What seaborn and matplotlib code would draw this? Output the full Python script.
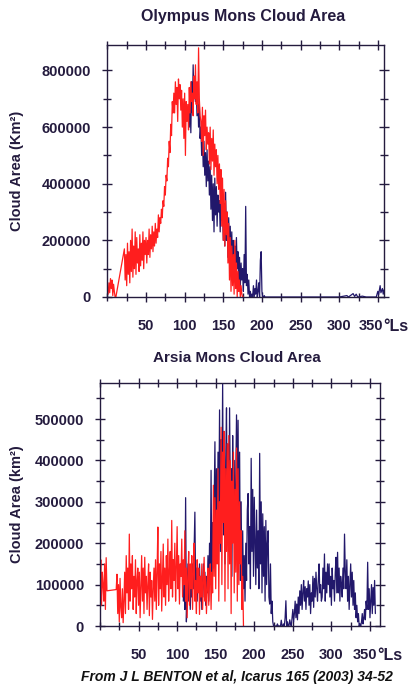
import numpy as np
import pandas as pd
import matplotlib
matplotlib.use('Agg')
import matplotlib.pyplot as plt
from matplotlib.ticker import MultipleLocator, StrMethodFormatter
from matplotlib.transforms import ScaledTranslation
import seaborn as sns

# cloud areas, in thousands of km2, one value per degree of Ls
olympus_red_ls = np.r_[1:12, 22:177]
olympus_red = [
    10, 50, 15, 65, 30, 60, 5, 45, 20, 0, 0,
    170, 60, 150, 40, 190, 80, 160, 50, 200, 90,
    240, 70, 180, 100, 230, 80, 210, 120, 170, 90,
    220, 110, 190, 130, 230, 100, 200, 150, 210, 120,
    200, 150, 240, 140, 220, 170, 250, 160, 230, 180,
    260, 190, 240, 210, 290, 230, 280,
    260, 310, 280, 340, 320, 390, 360, 430, 410, 490, 460, 550, 510, 610, 570, 690, 650,
    720, 650, 760, 680, 740, 620, 770, 700, 750, 660,
    730, 600, 700, 560, 720, 500, 690, 620, 680, 590,
    740, 650, 760, 690, 720, 640, 780, 700, 820, 680,
    760, 650, 880, 700, 640,
    620, 550, 670, 500, 640, 570, 660, 520, 600, 540,
    580, 470, 600, 450, 560, 480, 590, 430, 540, 460,
    520, 400, 500, 380, 470, 330, 450, 250, 420, 200,
    380, 180, 340, 220, 300, 120, 260, 60, 210, 20,
    180, 40, 150, 10, 200, 30, 120, 0, 90, 20,
    60, 0, 40, 10, 0, 0,
]

olympus_blue_ls = np.r_[106:206, 210, 300, 310, 312, 318, 320, 322, 324, 330, 335,
                        348, 350, 351, 353, 354, 356, 357, 358, 360]
olympus_blue = [
    600, 700, 580, 760, 650, 820, 700, 780, 690, 740,
    640, 720, 600, 680, 560,
    600, 500, 570, 460, 550, 430, 510, 390, 520, 410,
    480, 360, 460, 310, 430, 270, 400, 230, 420, 290,
    390, 250, 360, 300, 340, 230, 330, 270, 310, 200,
    330, 180, 370, 200, 300, 140, 280, 160, 250, 120,
    230, 90, 200, 140, 180, 70, 210, 100, 160, 50,
    140, 30, 120, 60, 100, 20, 150, 50, 320, 40,
    80, 10, 60, 0, 20, 0, 10, 0, 40, 0,
    30, 10, 60, 0, 20, 50, 0, 130, 160, 20,
    0, 0, 5, 0, 0,
    0, 0, 5, 0, 12, 2, 10, 0, 3, 0,
    0, 20, 8, 40, 15, 30, 10, 25, 5,
]

arsia_red_ls = np.r_[0:10, 21:187]
arsia_red = [
    100, 160, 50, 130, 100, 60, 150, 40, 165, 85,
    88, 125, 30, 100, 10, 115, 45, 20, 90, 8,
    60, 130, 30, 170, 80, 140, 40, 222, 60, 150,
    90, 170, 40, 120, 70, 160, 30, 110, 140, 50,
    130, 20, 100, 170, 60, 140, 30, 166, 80, 120,
    40, 100, 150, 25, 130, 70, 110, 16, 90, 140,
    60, 160, 40, 130, 239, 50, 150, 90, 180, 36,
    120, 198, 70, 140, 50, 170, 100, 210, 60, 130,
    180, 90, 255, 70, 160, 110, 200, 60, 140, 240,
    90, 170, 53, 150, 120, 210, 70, 160, 100, 230,
    60, 140, 20, 120, 180, 50, 150, 90, 170, 40,
    130, 200, 60, 110, 30, 160, 80, 140, 28, 120,
    70, 150, 40, 100, 166, 60, 120, 30, 90, 140,
    50, 110, 150, 40, 130, 80,
    340, 120, 310, 90, 280, 150, 380, 60, 300, 200,
    480, 100, 420, 250, 470, 60, 380, 180, 440, 90,
    460, 150, 400, 30, 350, 200, 420, 80, 330, 130,
    430, 60, 380, 100, 300, 150, 230, 40, 120, 0,
]

arsia_blue_ls = np.r_[108:358]
arsia_blue = [
    60, 120, 40, 310, 10, 90, 150, 60, 130, 40,
    110, 70, 150, 90, 180, 275, 80, 140, 60, 130,
    90, 150, 60, 120, 40, 100, 150, 70, 130, 50,
    120, 80, 170, 60, 200, 110, 376, 90, 250, 140,
    300, 445, 150, 380, 200, 420, 260, 522, 180, 450,
    300, 587, 220, 470, 150, 400, 527, 250, 440, 180,
    527, 300, 380, 120, 460, 250, 400, 200, 350, 510,
    280, 497, 200, 420, 110, 300, 60, 230, 90, 170,
    60, 200, 110, 280, 320, 150, 240, 90, 405, 180,
    330, 120, 311, 200, 100, 280, 140, 230, 90, 417,
    150, 300, 80, 271, 120, 240, 60, 255, 100, 200,
    230, 70, 53, 150, 30, 60, 10, 0, 0, 0,
    0, 0, 5, 0, 0, 0, 0, 14, 0, 0,
    5, 0, 20, 61, 0, 10, 0, 0, 15, 5,
    0, 20, 40, 10, 30, 60, 20, 53, 15, 70,
    30, 85, 50, 100, 40, 80, 110, 60, 95, 40,
    90, 70, 109, 50, 100, 30, 80, 60, 120, 45,
    115, 70, 130, 90, 60, 110, 150, 80, 100, 60,
    70, 140, 90, 174, 60, 130, 80, 150, 100, 150,
    70, 120, 50, 140, 90, 110, 60, 130, 166, 80,
    178, 80, 140, 60, 120, 100, 70, 140, 90, 222,
    130, 90, 160, 60, 120, 40, 100, 150, 70, 130,
    50, 110, 40, 80, 20, 50, 10, 30, 0, 5,
    0, 10, 30, 5, 20, 40, 15, 60, 40, 154,
    40, 90, 20, 60, 100, 30, 93, 50, 110, 30,
]

xticks = [50, 100, 150, 200, 250, 300, 350]
olympus_yticks = [0, 200000, 400000, 600000, 800000]
arsia_yticks = [0, 100000, 200000, 300000, 400000, 500000]

RED = '#ff1e1e'
BLUE = '#22186b'
DARK = '#241b3e'

sns.set_theme(style='ticks')
plt.rcParams['font.family'] = ['Liberation Sans', 'DejaVu Sans']
plt.rcParams['font.weight'] = 'bold'


def series(ls, vals):
    return pd.DataFrame({'Ls': ls, 'area': np.array(vals) * 1000})


def style_axes(ax, xmin, xmax, ymax, yticks, ystep, shift350, ls_dx):
    ax.set_xlim(xmin, xmax)
    ax.set_ylim(0, ymax)
    ax.set_xticks(xticks)
    ax.xaxis.set_minor_locator(MultipleLocator(25))
    ax.set_yticks(yticks)
    ax.yaxis.set_minor_locator(MultipleLocator(ystep))
    ax.yaxis.set_major_formatter(StrMethodFormatter('{x:.0f}'))
    ax.tick_params(axis='both', which='both', direction='inout', top=True, right=True,
                   color=DARK, width=1.0, labelcolor=DARK)
    ax.tick_params(axis='both', which='major', length=7, labelsize=10.5)
    ax.tick_params(axis='both', which='minor', length=6)
    ax.tick_params(axis='x', which='both', pad=12)
    ax.tick_params(axis='y', which='both', pad=8)
    for sp in ax.spines.values():
        sp.set_visible(True)
        sp.set_color(DARK)
        sp.set_linewidth(1.0)
    ax.set_xlabel('')
    # the last tick label sits a little left of its tick, followed by the unit
    lbl = ax.xaxis.get_major_ticks()[-1].label1
    lbl.set_transform(lbl.get_transform() + ScaledTranslation(shift350 / 100, 0, fig.dpi_scale_trans))
    ax.annotate('°Ls', xy=(1, 0), xycoords='axes fraction', xytext=(ls_dx * 0.72, -24.5),
                textcoords='offset points', ha='left', va='baseline',
                fontsize=11.5, color=DARK)


fig = plt.figure(figsize=(4.1, 6.86), dpi=100)
ax1 = fig.add_axes([107 / 410, 1 - 297 / 686, 277 / 410, 252 / 686])
ax2 = fig.add_axes([100 / 410, 1 - 626 / 686, 280 / 410, 243 / 686])

sns.lineplot(data=series(olympus_blue_ls, olympus_blue), x='Ls', y='area', ax=ax1,
             color=BLUE, lw=0.9, estimator=None, sort=False)
sns.lineplot(data=series(olympus_red_ls, olympus_red), x='Ls', y='area', ax=ax1,
             color=RED, lw=0.9, estimator=None, sort=False)

sns.lineplot(data=series(arsia_blue_ls, arsia_blue), x='Ls', y='area', ax=ax2,
             color=BLUE, lw=0.9, estimator=None, sort=False)
sns.lineplot(data=series(arsia_red_ls, arsia_red), x='Ls', y='area', ax=ax2,
             color=RED, lw=0.9, estimator=None, sort=False)

style_axes(ax1, -0.5, 358, 890000, olympus_yticks, 100000, -7, -1)
style_axes(ax2, 0, 363, 587000, arsia_yticks, 50000, -5, -3)

ax1.set_ylabel('Cloud Area (Km²)', fontsize=10.5, fontweight='bold', color=DARK)
ax1.yaxis.set_label_coords(-0.30, 0.5)
ax2.set_ylabel('Cloud Area (km²)', fontsize=10.5, fontweight='bold', color=DARK)
ax2.yaxis.set_label_coords(-0.27, 0.5)

fig.text(243 / 410, 1 - 17 / 686, 'Olympus Mons Cloud Area', ha='center', va='center',
         fontsize=11.5, fontweight='bold', color=DARK)
fig.text(237 / 410, 1 - 358 / 686, 'Arsia Mons Cloud Area', ha='center', va='center',
         fontsize=11, fontweight='bold', color=DARK)
fig.text(237 / 410, 1 - 677 / 686, 'From J L BENTON et al, Icarus 165 (2003) 34-52',
         ha='center', va='center', fontsize=10, fontweight='bold', style='italic',
         color='#111111')

fig.savefig('out.png', dpi=100, facecolor='white')
